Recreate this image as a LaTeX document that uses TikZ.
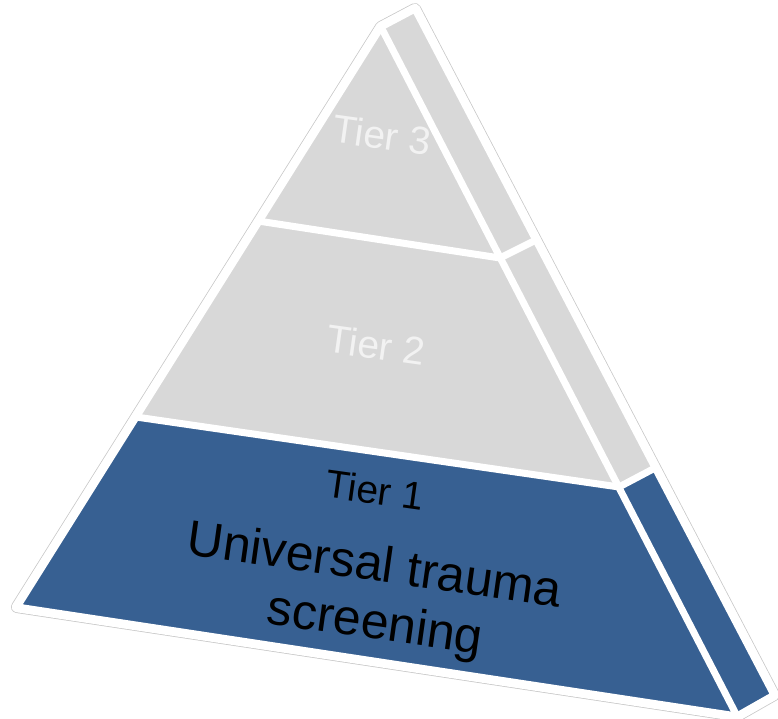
\documentclass[tikz,border=0pt]{standalone}
\usepackage{fontspec}
\setmainfont{Liberation Sans}
\definecolor{tierblue}{RGB}{55,96,146}
\definecolor{tiergray}{RGB}{216,216,216}
\definecolor{tiertext}{RGB}{242,242,242}
\begin{document}
\begin{tikzpicture}[x=1pt,y=-1pt,
  gap/.style={draw=white,line width=7pt,line join=round,line cap=round},
  lbl/.style={inner sep=0pt,rotate=-8}]
\useasboundingbox (0,0) rectangle (778,719);
% geometry
\coordinate (A) at (381,27);
\coordinate (T) at (415,9);
\coordinate (SB) at (774,695);
\coordinate (BR) at (737,716);
\coordinate (BL) at (17,607);
\coordinate (L1) at (258,221);
\coordinate (R1) at (500,258);
\coordinate (S1) at (536,240);
\coordinate (L2) at (136,417);
\coordinate (R2) at (619,487);
\coordinate (S2) at (655,468);
% outer halo
\draw[line width=12pt,draw=black!22,line join=round] (A)--(T)--(SB)--(BR)--(BL)--cycle;
\draw[line width=10.5pt,draw=white,fill=white,line join=round] (A)--(T)--(SB)--(BR)--(BL)--cycle;
% faces
\fill[tiergray] (A)--(L1)--(R1)--cycle;
\fill[tiergray] (L1)--(L2)--(R2)--(R1)--cycle;
\fill[tierblue] (L2)--(BL)--(BR)--(R2)--cycle;
\fill[tiergray] (A)--(T)--(S1)--(R1)--cycle;
\fill[tiergray] (R1)--(S1)--(S2)--(R2)--cycle;
\fill[tierblue] (R2)--(S2)--(SB)--(BR)--cycle;
% gaps
\draw[gap] (A)--(T)--(SB)--(BR)--(BL)--cycle;
\draw[gap] (A)--(BR);
\draw[gap] (L1)--(R1)--(S1);
\draw[gap] (L2)--(R2)--(S2);
% labels
\node[lbl,text=tiertext,font=\fontsize{39}{44}\selectfont] (t3) at (382,135) {Tier 3};
\node[lbl,text=tiertext,font=\fontsize{39}{44}\selectfont] (t2) at (376,345) {Tier 2};
\node[lbl,text=black,font=\fontsize{39}{44}\selectfont] (t1) at (375,490) {Tier 1};
\node[lbl,text=black,font=\fontsize{50}{60}\selectfont] (t1b) at (375,563) {Universal trauma};
\node[lbl,text=black,font=\fontsize{50}{60}\selectfont] (t1c) at (375,626) {screening};
\end{tikzpicture}
\end{document}
